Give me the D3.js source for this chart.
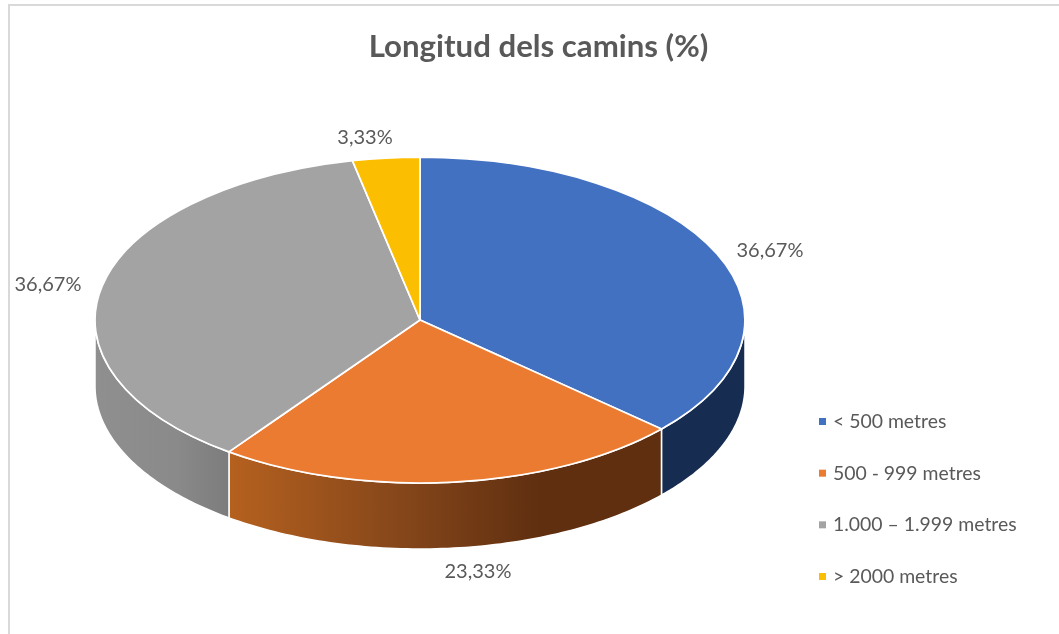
<!DOCTYPE html>
<html>
<head>
<meta charset="utf-8">
<script src="https://cdn.jsdelivr.net/npm/d3@7"></script>
<style>
    html, body { margin: 0; background: #fff; }
    /* the source is a soft, upscaled screenshot */
    svg { display: block; font-family: Lato, "Open Sans", sans-serif; filter: blur(0.4px); }
</style>
</head>
<body>
<div id="chart"></div>
<script>
(function(){

    // Values
    const categories = ["< 500 metres", "500 - 999 metres", "1.000 \u2013 1.999 metres", "> 2000 metres"];
    const shares = [36.67, 23.33, 36.67, 3.33];
    const shareLabels = ["36,67%", "23,33%", "36,67%", "3,33%"];

    const topColors = ["#4371c1", "#eb7b30", "#a3a3a3", "#fcbe00"];
    // gradient stops of each slice's side wall, left to right
    const sideStops = [
        [[0, "#172c51"], [1, "#172c51"]],
        [[0, "#b5611f"], [0.4, "#85461a"], [0.72, "#5f2f10"], [1, "#5f2f10"]],
        [[0, "#8f8f8f"], [0.6, "#8a8a8a"], [1, "#7c7c7c"]],
        [[0, "#997300"], [1, "#997300"]]
    ];

    const width = 1059, height = 634;
    const cx = 420, cy = 320, rx = 325, ry = 163, depth = 66;

    const svg = d3.select("#chart").append("svg")
        .attr("width", width)
        .attr("height", height);

    // Chart frame, only the left and top edges are in the crop
    svg.append("path")
        .attr("d", d3.line()([[9, height], [9, 5], [width, 5]]))
        .attr("fill", "none")
        .attr("stroke", "#d9d9d9")
        .attr("stroke-width", 2);

    // Pie angles start at 12 o'clock and go clockwise
    const slices = d3.pie().sort(null)(shares);

    const px = a => cx + rx * Math.sin(a);
    const py = a => cy - ry * Math.cos(a);

    // Side wall: only the part of the slice on the front half of the ellipse
    function sidePath(d) {
        const a0 = Math.max(d.startAngle, Math.PI / 2);
        const a1 = Math.min(d.endAngle, Math.PI * 1.5);
        if (a1 <= a0) return null;
        const p = d3.path();
        const steps = 80;
        for (let i = 0; i <= steps; i++) {
            const a = a0 + (a1 - a0) * i / steps;
            if (i === 0) p.moveTo(px(a), py(a)); else p.lineTo(px(a), py(a));
        }
        for (let i = steps; i >= 0; i--) {
            const a = a0 + (a1 - a0) * i / steps;
            p.lineTo(px(a), py(a) + depth);
        }
        p.closePath();
        return p.toString();
    }

    const defs = svg.append("defs");
    slices.forEach((d, i) => {
        const a0 = Math.max(d.startAngle, Math.PI / 2);
        const a1 = Math.min(d.endAngle, Math.PI * 1.5);
        if (a1 <= a0) return;
        const xs = [px(a0), px(a1)];
        const grad = defs.append("linearGradient")
            .attr("id", "side" + i)
            .attr("gradientUnits", "userSpaceOnUse")
            .attr("x1", d3.min(xs)).attr("x2", d3.max(xs))
            .attr("y1", 0).attr("y2", 0);
        grad.selectAll("stop")
            .data(sideStops[i])
            .join("stop")
            .attr("offset", s => s[0])
            .attr("stop-color", s => s[1]);
    });

    // Side walls first, top face over them
    svg.append("g").selectAll("path")
        .data(slices)
        .join("path")
        .attr("d", sidePath)
        .attr("fill", (d, i) => `url(#side${i})`)
        .attr("stroke", "#fff")
        .attr("stroke-width", 1.5)
        .attr("stroke-linejoin", "round");

    // Top face: unit arc squashed into the ellipse
    const unitArc = d3.arc().innerRadius(0).outerRadius(1);
    svg.append("g")
        .attr("transform", `translate(${cx},${cy}) scale(${rx},${ry})`)
        .selectAll("path")
        .data(slices)
        .join("path")
        .attr("d", unitArc)
        .attr("fill", (d, i) => topColors[i])
        .attr("stroke", "#fff")
        .attr("stroke-width", 1.75)
        .attr("vector-effect", "non-scaling-stroke");

    // Title
    svg.append("text")
        .attr("x", 538.5)
        .attr("y", 57)
        .attr("text-anchor", "middle")
        .attr("font-size", 31.2)
        .attr("font-weight", 700)
        .attr("fill", "#595959")
        .text("Longitud dels camins (%)");

    // Data labels, anchored by hand as in the source chart
    const labelX = [770, 478, 48, 365];
    const labelY = [256.5, 578, 291, 144];
    svg.append("g").selectAll("text")
        .data(shareLabels)
        .join("text")
        .attr("x", (d, i) => labelX[i])
        .attr("y", (d, i) => labelY[i])
        .attr("text-anchor", "middle")
        .attr("font-size", 20)
        .attr("fill", "#595959")
        .text(d => d);

    // Legend
    const legendY = d3.scalePoint().domain(categories).range([422, 577]);
    const legend = svg.append("g").selectAll("g")
        .data(categories)
        .join("g")
        .attr("transform", d => `translate(819,${legendY(d)})`);

    legend.append("rect")
        .attr("y", -4)
        .attr("width", 7)
        .attr("height", 7)
        .attr("fill", (d, i) => topColors[i]);

    legend.append("text")
        .attr("x", 14)
        .attr("y", 6)
        .attr("font-size", 19.4)
        .attr("fill", "#595959")
        .text(d => d);

})();
</script>
</body>
</html>
